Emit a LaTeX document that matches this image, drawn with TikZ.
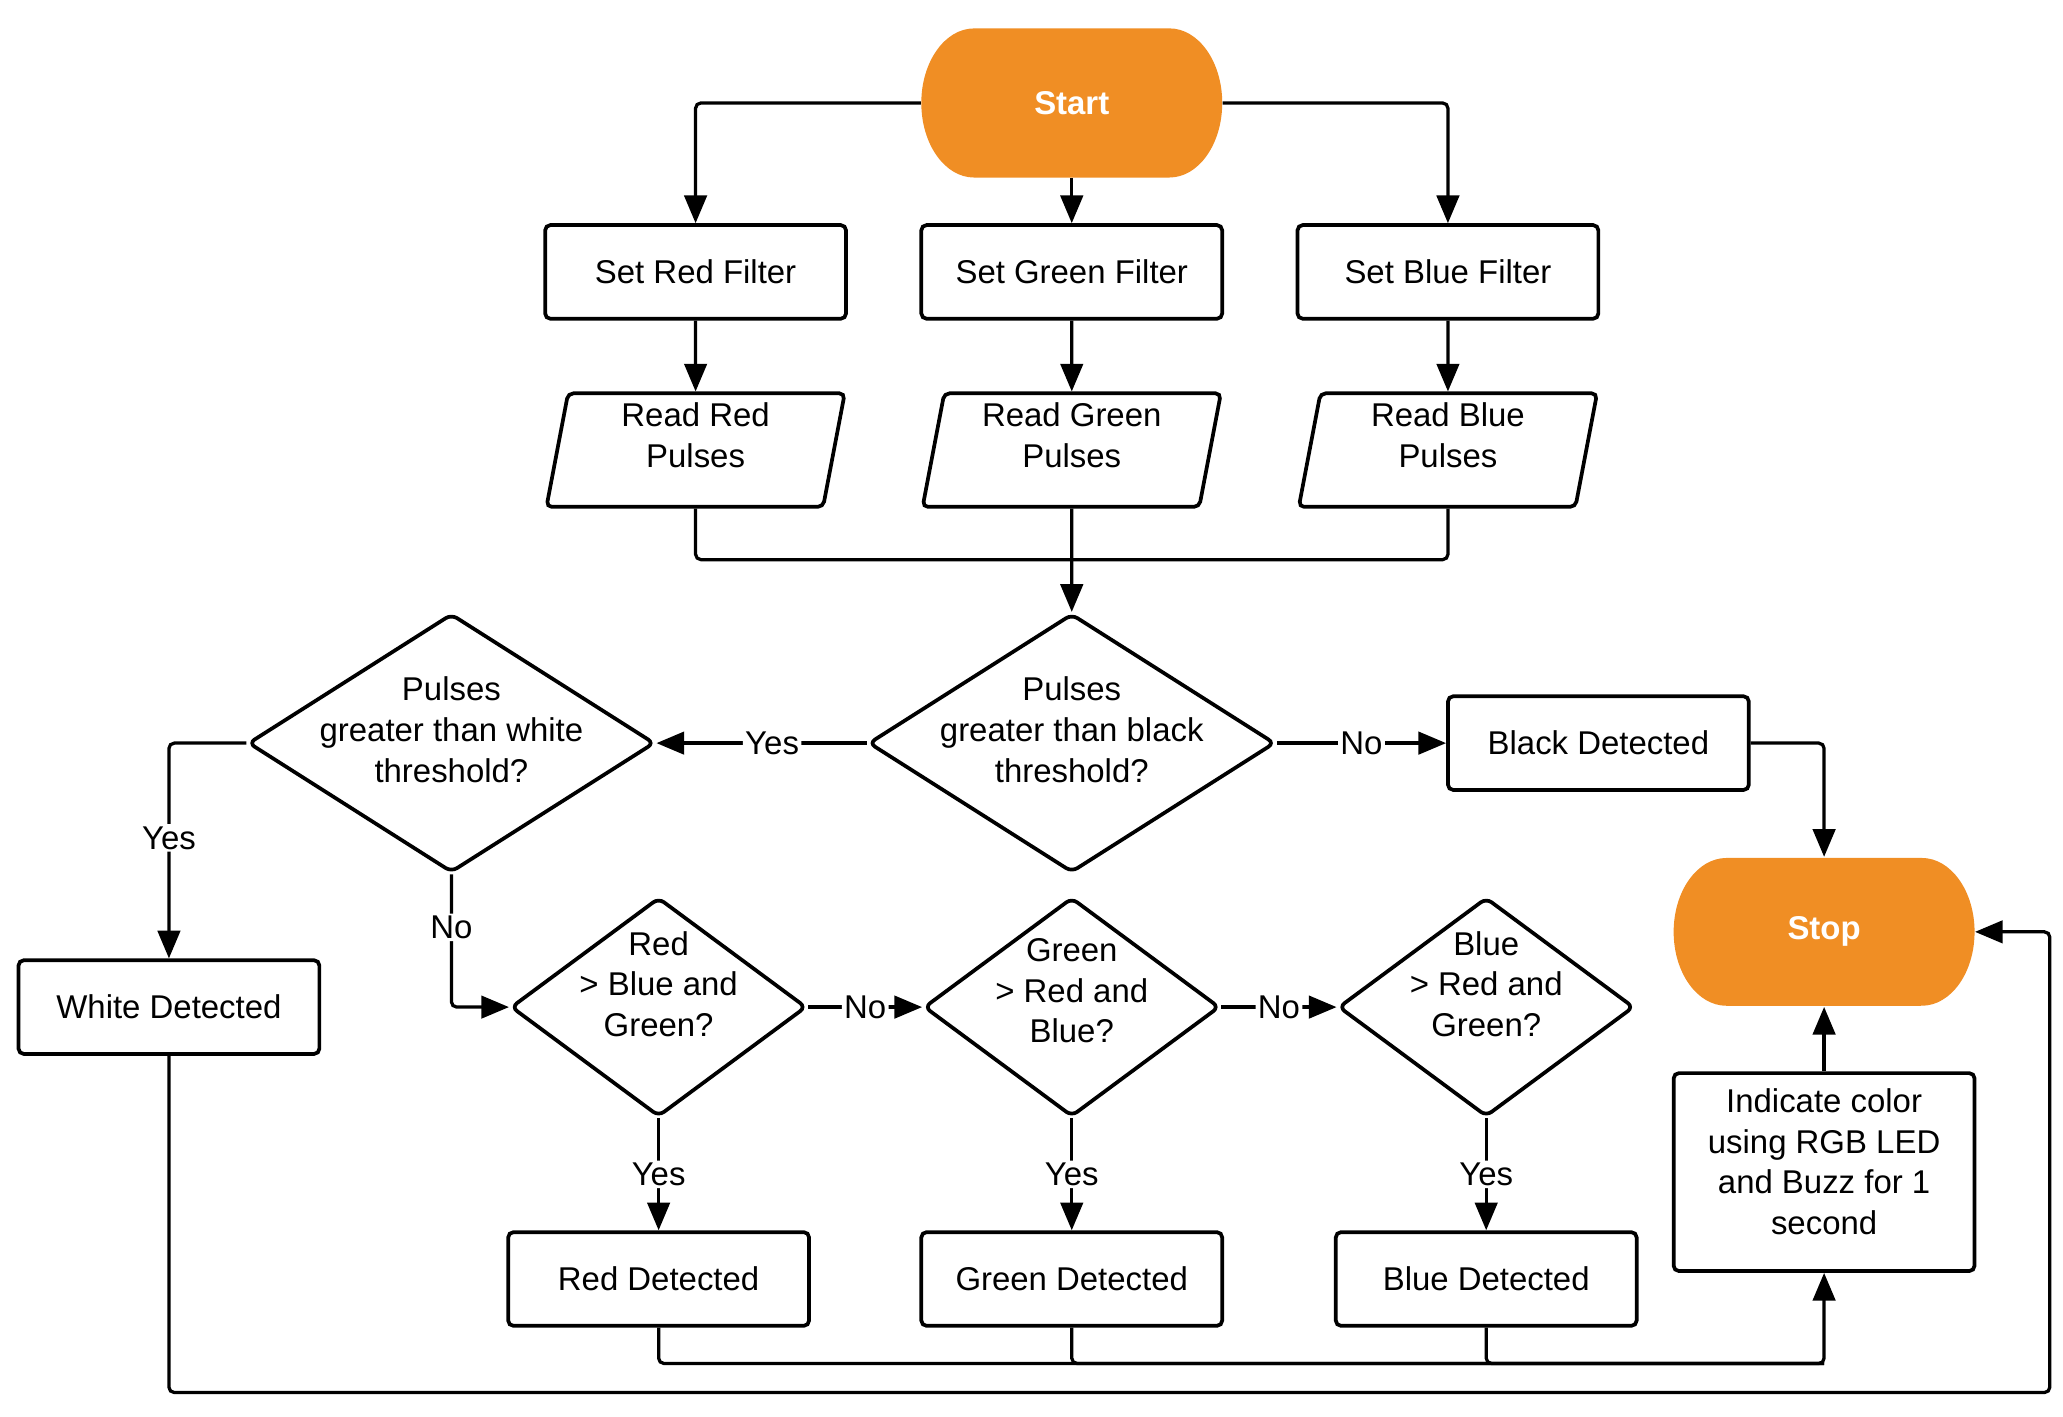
\documentclass[tikz,border=0pt]{standalone}
\usepackage{fontspec}
\setmainfont{Liberation Sans}
\usetikzlibrary{shapes.geometric,arrows.meta}
\definecolor{termorange}{RGB}{240,142,36}
\tikzset{
  every node/.style={font=\fontsize{14.2}{17.6}\selectfont},
  process/.style={draw, line width=1.6pt, rounded corners=0.08cm, minimum width=4.56cm, minimum height=1.42cm, align=center},
  io/.style={draw, trapezium, trapezium left angle=78, trapezium right angle=102, trapezium stretches body, line width=1.6pt, rounded corners=0.08cm, minimum width=4.52cm, minimum height=1.72cm, inner ysep=0.05cm, text depth=0.46cm, align=center},
  decision/.style={draw, diamond, line width=1.6pt, rounded corners=0.1cm, inner sep=-0.3cm, align=center},
  terminal/.style={text=white, font=\bfseries\fontsize{14.2}{17.6}\selectfont, minimum width=4.56cm, minimum height=2.26cm},
  flow/.style={line width=1.4pt, rounded corners=0.08cm, -{Triangle[length=0.42cm,width=0.34cm]}},
  line/.style={line width=1.4pt, rounded corners=0.08cm},
  tag/.style={fill=white, inner sep=1pt}
}
\begin{document}
\begin{tikzpicture}[x=0.02cm, y=-0.02cm]
    \useasboundingbox (0,0) rectangle (1563,1073);
    % terminals
    \fill[termorange] (738,21.5) -- (886,21.5) arc[start angle=90, end angle=-90, x radius=0.8cm, y radius=1.13cm] -- (738,134.5) arc[start angle=270, end angle=90, x radius=0.8cm, y radius=1.13cm] -- cycle;
    \fill[termorange] (1308,650) -- (1456,650) arc[start angle=90, end angle=-90, x radius=0.8cm, y radius=1.12cm] -- (1308,762) arc[start angle=270, end angle=90, x radius=0.8cm, y radius=1.12cm] -- cycle;
    \node[terminal] (start) at (812,78) {Start};
    \node[terminal] (stop) at (1382,706) {Stop};
    % filters and readings
    \node[process] (setred) at (527,206) {Set Red Filter};
    \node[process] (setgreen) at (812,206) {Set Green Filter};
    \node[process] (setblue) at (1097,206) {Set Blue Filter};
    \node[io] (readred) at (527,341) {Read Red\\Pulses};
    \node[io] (readgreen) at (812,341) {Read Green\\Pulses};
    \node[io] (readblue) at (1097,341) {Read Blue\\Pulses};
    % thresholds
    \node[decision, shape aspect=1.57, text depth=0.42cm, minimum width=6.16cm, minimum height=3.92cm] (black) at (812,563) {Pulses\\greater than black\\threshold?};
    \node[decision, shape aspect=1.57, text depth=0.42cm, minimum width=6.16cm, minimum height=3.92cm] (white) at (342,563) {Pulses\\greater than white\\threshold?};
    \node[process] (blackdet) at (1211,563) {Black Detected};
    \node[process] (whitedet) at (128,763) {White Detected};
    % colour tests
    \node[decision, shape aspect=1.35, text depth=0.7cm, minimum width=4.48cm, minimum height=3.32cm] (isred) at (499,763) {Red\\> Blue and\\Green?};
    \node[decision, shape aspect=1.35, text depth=0.5cm, minimum width=4.48cm, minimum height=3.32cm] (isgreen) at (812,763) {Green\\> Red and\\Blue?};
    \node[decision, shape aspect=1.35, text depth=0.7cm, minimum width=4.48cm, minimum height=3.32cm] (isblue) at (1126,763) {Blue\\> Red and\\Green?};
    \node[process] (reddet) at (499,969) {Red Detected};
    \node[process] (greendet) at (812,969) {Green Detected};
    \node[process] (bluedet) at (1126,969) {Blue Detected};
    \node[process, minimum height=3cm, text depth=0.32cm] (indicate) at (1382,888) {Indicate color\\using RGB LED\\and Buzz for 1\\second};
    \coordinate (merge) at (812,424);
    \coordinate (collect) at (1382,1033);
    \coordinate (loop) at (1553,1055);
    % connectors
    \draw[flow] (start.west) -| (setred.north);
    \draw[flow] (start.south) -- (setgreen.north);
    \draw[flow] (start.east) -| (setblue.north);
    \draw[flow] (setred.south) -- (readred.north);
    \draw[flow] (setgreen.south) -- (readgreen.north);
    \draw[flow] (setblue.south) -- (readblue.north);
    \draw[line] (readred.south) |- (merge);
    \draw[line] (readblue.south) |- (merge);
    \draw[flow] (readgreen.south) -- (black.north);
    \draw[flow] (black.west) -- node[tag, pos=0.45] {Yes} (white.east);
    \draw[flow] (black.east) -- node[tag] {No} (blackdet.west);
    \draw[flow] (blackdet.east) -| (stop.north);
    \draw[flow] (white.west) -| node[tag, pos=0.72] {Yes} (whitedet.north);
    \draw[flow] (white.south) |- node[tag, pos=0.2] {No} (isred.west);
    \draw[flow] (isred.east) -- node[tag] {No} (isgreen.west);
    \draw[flow] (isgreen.east) -- node[tag] {No} (isblue.west);
    \draw[flow] (isred.south) -- node[tag] {Yes} (reddet.north);
    \draw[flow] (isgreen.south) -- node[tag] {Yes} (greendet.north);
    \draw[flow] (isblue.south) -- node[tag] {Yes} (bluedet.north);
    \draw[flow] (reddet.south) |- (collect) -- (indicate.south);
    \draw[line] (greendet.south) |- (collect);
    \draw[line] (bluedet.south) |- (collect);
    \draw[flow] (indicate.north) -- (stop.south);
    \draw[flow] (whitedet.south) |- (loop) |- (stop.east);
\end{tikzpicture}
\end{document}
